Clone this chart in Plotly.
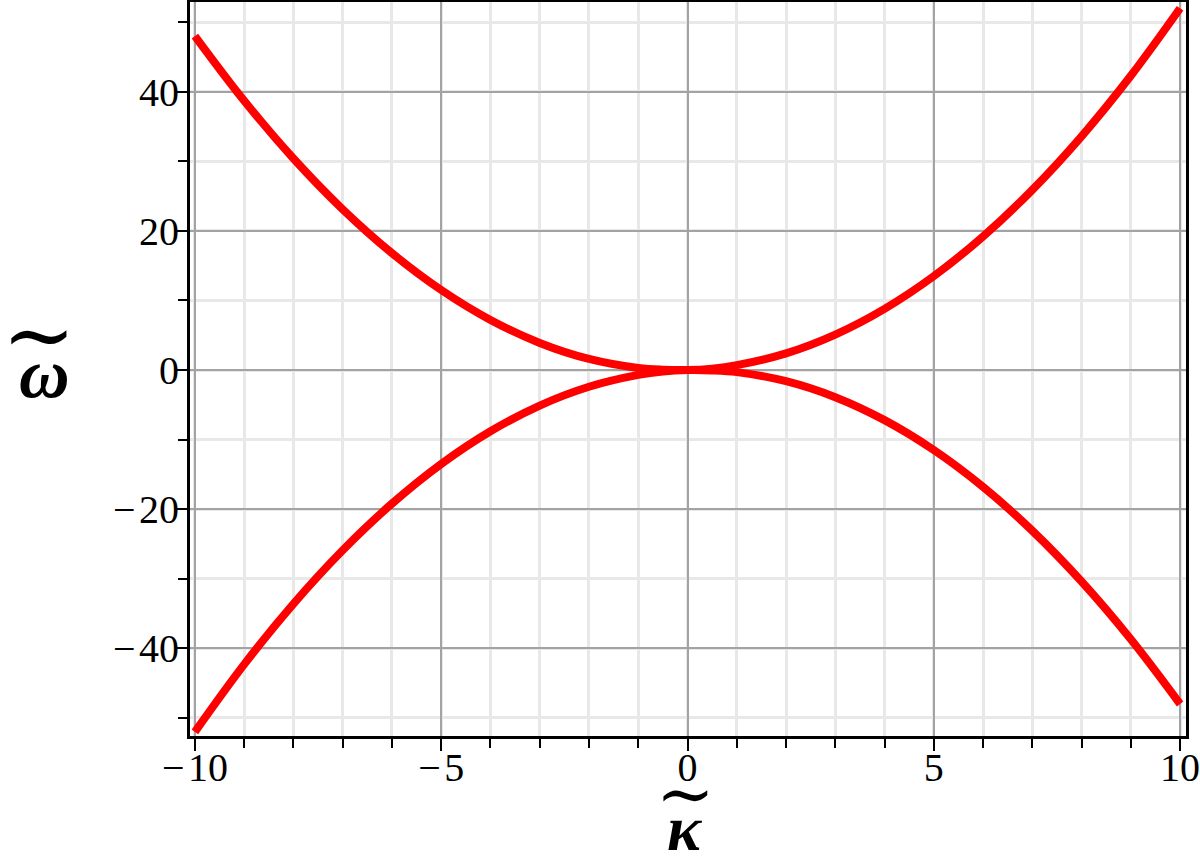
import plotly.graph_objects as go

# values
kappa = [-10, -9, -8, -7, -6, -5, -4, -3, -2, -1, -0.5, 0, 0.5, 1, 2, 3, 4, 5, 6, 7, 8, 9, 10]
omega_upper = [48, 38.7, 30.4, 23.1, 16.8, 11.5, 7.2, 3.9, 1.6, 0.3, 0.05, 0, 0.2, 0.7,
               2.4, 5.1, 8.8, 13.5, 19.2, 25.9, 33.6, 42.3, 52]
omega_lower = [-52, -42.3, -33.6, -25.9, -19.2, -13.5, -8.8, -5.1, -2.4, -0.7, -0.2, 0, -0.05,
               -0.3, -1.6, -3.9, -7.2, -11.5, -16.8, -23.1, -30.4, -38.7, -48]

x_ticks = [-10, -5, 0, 5, 10]
x_ticktext = ["\u2212\u200a10", "\u2212\u200a5", "0", "5", "10"]
y_ticks = [-40, -20, 0, 20, 40]
y_ticktext = ["\u2212\u200a40", "\u2212\u200a20", "0", "20", "40"]

fig = go.Figure()
for ys in [omega_upper, omega_lower]:
    fig.add_trace(go.Scatter(x=kappa, y=ys, mode="lines", line_shape="spline",
                             line=dict(color="#ff0000", width=8), showlegend=False))

serif = "Liberation Serif"
axis_common = dict(
    showline=True, linecolor="black", linewidth=3, mirror=True,
    ticks="outside", tickcolor="black", tickwidth=2, ticklen=12,
    gridcolor="#a3a3a3", gridwidth=2, zeroline=False, automargin=False,
    ticklabeloverflow="allow",
    tickfont=dict(family=serif, size=40, color="black"),
)

L, R, T, B = 190, 14, 2, 127
fig.update_layout(
    width=1200, height=863,
    margin=dict(l=L, r=R, t=T, b=B),
    plot_bgcolor="white", paper_bgcolor="white",
    xaxis=dict(range=[-10.1, 10.12], tickvals=x_ticks, ticktext=x_ticktext,
               ticklabelstandoff=-18,
               minor=dict(dtick=1, tick0=0, showgrid=True, gridcolor="#e8e8e8", gridwidth=3,
                          ticks="outside", ticklen=9, tickcolor="black", tickwidth=2),
               **axis_common),
    yaxis=dict(range=[-52.6, 52.9], tickvals=y_ticks, ticktext=y_ticktext,
               ticklabelstandoff=-12,
               minor=dict(dtick=10, tick0=0, showgrid=True, gridcolor="#e8e8e8", gridwidth=3,
                          ticks="outside", ticklen=9, tickcolor="black", tickwidth=2),
               **axis_common),
)

# axis labels: tilde above the greek letter, placed in pixel terms
def px_label(px, py, text, size, family=serif):
    fig.add_annotation(
        x=(px - L) / (1200 - L - R), y=(863 - B - py) / (863 - T - B),
        xref="paper", yref="paper", xanchor="center", yanchor="middle",
        text=text, showarrow=False, font=dict(family=family, size=size, color="black"))

px_label(39, 334, "\u223c", 88, "DejaVu Serif")
px_label(44, 374, "<b><i>\u03c9</i></b>", 70)
px_label(685, 794, "\u223c", 70, "DejaVu Serif")
px_label(685, 828, "<b><i>\u03ba</i></b>", 64)

# page body margin would shift the figure by 8px
fig.write_html("out.html", config={"displayModeBar": False},
               post_script="document.body.style.margin='0';")
